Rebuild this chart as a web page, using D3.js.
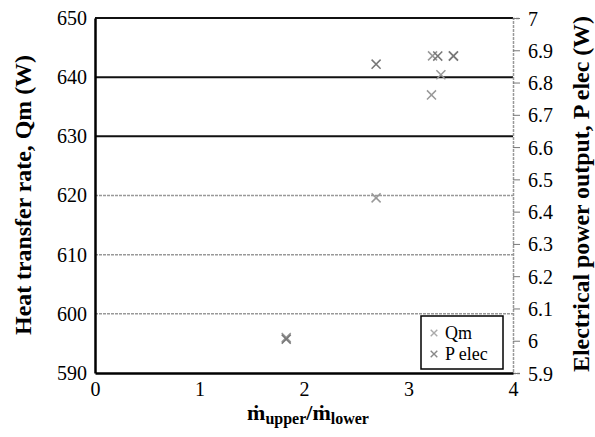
<!DOCTYPE html>
<html>
<head>
<meta charset="utf-8">
<script src="https://cdn.jsdelivr.net/npm/d3@7"></script>
<style>
  body { margin: 0; background: #fff; }
  svg text { fill: #000; }
</style>
</head>
<body>
<script>
var w = 595;
var h = 437;
var margin = {top: 18, bottom: 64, left: 95, right: 82};
var width = w - margin.left - margin.right;
var height = h - margin.top - margin.bottom;

// values
var qmRatio = [1.83, 2.69, 3.22, 3.31, 3.23, 3.43];
var qmValue = [596.0, 619.6, 637.0, 640.4, 643.6, 643.6];
var pRatio = [1.83, 2.69, 3.28, 3.43];
var pValue = [6.005, 6.857, 6.882, 6.882];

var xTicks = [0, 1, 2, 3, 4];
var leftTicks = [590, 600, 610, 620, 630, 640, 650];
var rightTicks = [5.9, 6, 6.1, 6.2, 6.3, 6.4, 6.5, 6.6, 6.7, 6.8, 6.9, 7];
var solidGrid = [630, 640, 650];
var dashGrid = [600, 610, 620];

var serif = "'Liberation Serif', 'Times New Roman', serif";

var x = d3.scaleLinear().domain([0, 4]).range([0, width]);
var yL = d3.scaleLinear().domain([590, 650]).range([height, 0]);
var yR = d3.scaleLinear().domain([5.9, 7]).range([height, 0]);

var svg = d3.select("body").append("svg")
  .attr("width", w)
  .attr("height", h)
  .attr("font-family", serif);

var chart = svg.append("g")
  .attr("transform", "translate(" + margin.left + "," + margin.top + ")");

// scale a text's font so it spans the length seen in the picture
var fit = (sel, target) => {
  var fs = parseFloat(sel.style("font-size"));
  var len = sel.node().getComputedTextLength();
  sel.style("font-size", (fs * target / len) + "px");
};

// gridlines
chart.selectAll(".dgrid")
  .data(dashGrid)
  .enter().append("line")
  .attr("x1", 0).attr("x2", width)
  .attr("y1", (d) => yL(d)).attr("y2", (d) => yL(d))
  .attr("stroke", "#999")
  .attr("stroke-width", 1.5)
  .attr("stroke-dasharray", "3,1");

chart.selectAll(".sgrid")
  .data(solidGrid)
  .enter().append("line")
  .attr("x1", 0).attr("x2", width)
  .attr("y1", (d) => yL(d)).attr("y2", (d) => yL(d))
  .attr("stroke", "#111")
  .attr("stroke-width", 2);

// right axis (dashed grey line, outside ticks)
var right = chart.append("g")
  .attr("transform", "translate(" + width + ",0)")
  .call(d3.axisRight(yR).tickValues(rightTicks).tickSize(7).tickPadding(8)
    .tickFormat((d) => d3.format("~g")(d)));
right.attr("font-family", serif);
right.select(".domain").attr("stroke", "#999").attr("stroke-width", 1.5)
  .attr("stroke-dasharray", "3,1");
right.selectAll(".tick line").attr("stroke", "#777");
right.selectAll(".tick text").style("font-size", "20px").attr("dy", "0.35em");

// left axis
var left = chart.append("g")
  .call(d3.axisLeft(yL).tickValues(leftTicks).tickSize(0).tickPadding(8));
left.attr("font-family", serif);
left.select(".domain").attr("stroke", "#000").attr("stroke-width", 2.5);
left.selectAll(".tick text").style("font-size", "20px");

// bottom axis
var bottom = chart.append("g")
  .attr("transform", "translate(0," + height + ")")
  .call(d3.axisBottom(x).tickValues(xTicks).tickSize(0).tickPadding(9)
    .tickFormat(d3.format("d")));
bottom.attr("font-family", serif);
bottom.select(".domain").attr("stroke", "#000").attr("stroke-width", 2.5);
bottom.selectAll(".tick text").style("font-size", "20px");

// markers
var cross = d3.symbol().type(d3.symbolX).size(55);

chart.selectAll(".qm")
  .data(d3.zip(qmRatio, qmValue))
  .enter().append("path")
  .attr("d", cross)
  .attr("transform", (d) => "translate(" + x(d[0]) + "," + yL(d[1]) + ")")
  .attr("fill", "none")
  .attr("stroke", "#999")
  .attr("stroke-width", 1.5);

chart.selectAll(".pe")
  .data(d3.zip(pRatio, pValue))
  .enter().append("path")
  .attr("d", cross)
  .attr("transform", (d) => "translate(" + x(d[0]) + "," + yR(d[1]) + ")")
  .attr("fill", "none")
  .attr("stroke", "#777")
  .attr("stroke-width", 1.5);

// legend
var legend = chart.append("g")
  .attr("transform", "translate(" + (width - 92) + "," + (height - 57) + ")");
legend.append("rect")
  .attr("width", 82).attr("height", 53)
  .attr("fill", "#fff").attr("stroke", "#000").attr("stroke-width", 1.5);
var items = ["Qm", "P elec"];
var itemLen = [33, 40];
items.forEach((t, i) => {
  legend.append("path")
    .attr("d", d3.symbol().type(d3.symbolX).size(30))
    .attr("transform", "translate(13," + (17 + i * 21) + ")")
    .attr("fill", "none").attr("stroke", i ? "#888" : "#aaa").attr("stroke-width", 1.4);
  var lt = legend.append("text")
    .attr("x", 24).attr("y", 17 + i * 21).attr("dy", "0.35em")
    .style("font-size", "18px")
    .text(t);
});

// axis titles
var lt = svg.append("text")
  .attr("transform", "translate(31," + 195 + ") rotate(-90)")
  .attr("text-anchor", "middle")
  .style("font-size", "20px").style("font-weight", "bold")
  .text("Heat transfer rate, Qm (W)");
fit(lt, 280);

var rt = svg.append("text")
  .attr("transform", "translate(589," + 194 + ") rotate(-90)")
  .attr("text-anchor", "middle")
  .style("font-size", "20px").style("font-weight", "bold")
  .text("Electrical power output, P elec (W)");
fit(rt, 356);

var xt = svg.append("text")
  .attr("x", 308)
  .attr("y", 420)
  .attr("text-anchor", "middle")
  .style("font-size", "22px").style("font-weight", "bold");
xt.append("tspan").text("\u1E41");
xt.append("tspan").attr("dy", 4).style("font-size", "16px").text("upper");
xt.append("tspan").attr("dy", -4).text("/\u1E41");
xt.append("tspan").attr("dy", 4).style("font-size", "16px").text("lower");
</script>
</body>
</html>
